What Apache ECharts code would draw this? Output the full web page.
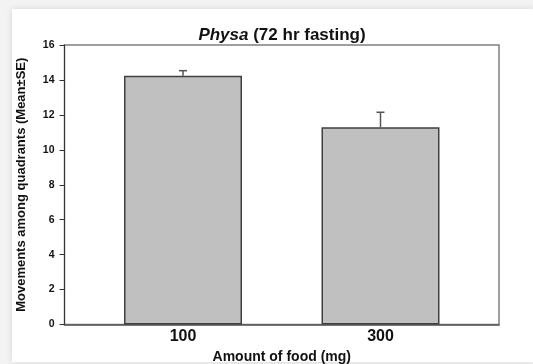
<!DOCTYPE html>
<html>
<head>
<meta charset="utf-8">
<script src="https://cdn.jsdelivr.net/npm/echarts@6/dist/echarts.min.js"></script>
<style>
  html, body { margin: 0; padding: 0; width: 533px; height: 364px; background: #f3f3f3; overflow: hidden; }
  #card { position: absolute; left: 12px; top: 9px; width: 521px; height: 353px; background: #ffffff;
          box-shadow: 0 0 6px rgba(0,0,0,0.12); }
  #chart { position: absolute; left: 0; top: 0; width: 533px; height: 364px; }
</style>
</head>
<body>
<div id="card"></div>
<div id="chart"></div>
<script>
// Data
const foodAmounts = ['100', '300'];          // x categories (mg)
const meanMovements = [14.24, 11.29];        // bar heights (Mean)
const seMovements = [0.29, 0.86];            // upward error (SE)
const titleItalic = 'Physa';
const titleRest = ' (72 hr fasting)';
const xTitle = 'Amount of food (mg)';
const yTitle = 'Movements among quadrants (Mean\u00b1SE)';

const positions = foodAmounts.map((_, i) => i);
const barData = positions.map((p, i) => [p, meanMovements[i]]);
const errData = positions.map((p, i) => [p, meanMovements[i], meanMovements[i] + seMovements[i]]);

const chart = echarts.init(document.getElementById('chart'), null, { renderer: 'canvas' });
const fontFamily = 'Liberation Sans, Arial, sans-serif';

chart.setOption({
  backgroundColor: 'transparent',
  animation: false,
  title: {
    text: '{i|' + titleItalic + '}{n|' + titleRest + '}',
    left: 282,
    textAlign: 'center',
    top: 27,
    padding: 0,
    textStyle: {
      rich: {
        i: { fontFamily: fontFamily, fontSize: 17, fontWeight: 'bold', fontStyle: 'italic', color: '#111' },
        n: { fontFamily: fontFamily, fontSize: 17, fontWeight: 'bold', color: '#111' }
      }
    }
  },
  grid: {
    left: 64.5, right: 34, top: 45, bottom: 39.5,
    outerBoundsMode: 'none',
    containLabel: false,
    show: true, borderColor: '#808080', borderWidth: 1.5, backgroundColor: '#ffffff'
  },
  xAxis: {
    type: 'value',
    min: -0.6, max: 1.6,
    splitLine: { show: false },
    axisLine: { show: true, onZero: false, lineStyle: { color: '#555', width: 1.5 } },
    axisTick: { show: false },
    axisLabel: {
      customValues: positions,
      formatter: v => foodAmounts[Math.round(v)],
      fontFamily: fontFamily, fontSize: 16, fontWeight: 'bold', color: '#111', margin: 4.5
    },
    name: xTitle,
    nameLocation: 'middle',
    nameGap: 21.5,
    nameTextStyle: { fontFamily: fontFamily, fontSize: 14, fontWeight: 'bold', color: '#111' }
  },
  yAxis: {
    type: 'value',
    min: 0, max: 16, interval: 2,
    splitLine: { show: false },
    axisLine: { show: true, onZero: false, lineStyle: { color: '#333', width: 1 } },
    axisTick: { show: true, inside: false, length: 5, lineStyle: { color: '#333' } },
    axisLabel: { fontFamily: fontFamily, fontSize: 10.5, fontWeight: 'bold', color: '#111', margin: 10 },
    name: yTitle,
    nameLocation: 'middle',
    nameGap: 37,
    nameTextStyle: { fontFamily: fontFamily, fontSize: 13, fontWeight: 'bold', color: '#111' }
  },
  series: [
    {
      type: 'bar',
      data: barData,
      barWidth: 118,
      itemStyle: { color: '#c0c0c0', borderColor: '#404040', borderWidth: 1.5 },
      z: 2
    },
    {
      type: 'custom',
      data: errData,
      z: 3,
      renderItem: function (params, api) {
        const x = api.value(0);
        const base = api.coord([x, api.value(1)]);
        const top = api.coord([x, api.value(2)]);
        const half = 4;
        const style = { stroke: '#555', lineWidth: 1.5 };
        return {
          type: 'group',
          children: [
            { type: 'line', shape: { x1: base[0], y1: base[1], x2: top[0], y2: top[1] }, style: style },
            { type: 'line', shape: { x1: top[0] - half, y1: top[1], x2: top[0] + half, y2: top[1] }, style: style }
          ]
        };
      }
    }
  ]
});
</script>
</body>
</html>
